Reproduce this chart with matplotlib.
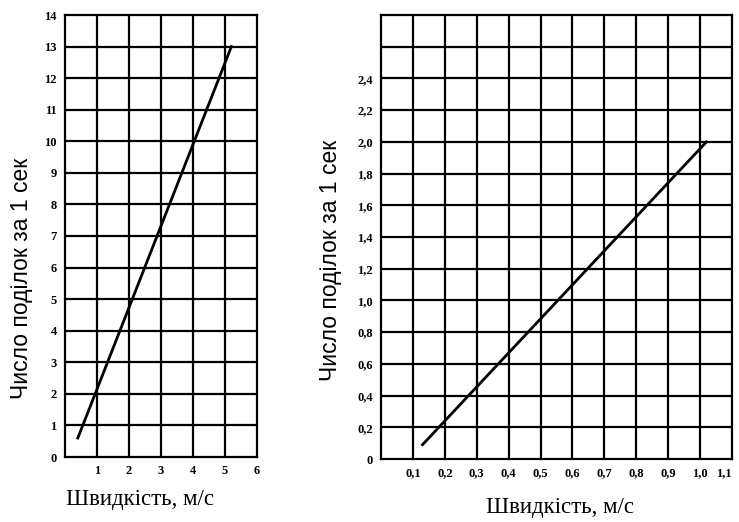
import matplotlib

matplotlib.use("Agg")
import matplotlib.pyplot as plt
import numpy as np

# left chart: speed (m/s) vs divisions per second
left_speed = [0.4, 5.2]
left_counts = [0.6, 13.0]
left_xticks = [1, 2, 3, 4, 5, 6]
left_yticks = list(range(0, 15))

# right chart
right_speed = [0.13, 1.02]
right_counts = [0.09, 2.0]
right_xticks = [0.1, 0.2, 0.3, 0.4, 0.5, 0.6, 0.7, 0.8, 0.9, 1.0, 1.1]
right_yticks = [0, 0.2, 0.4, 0.6, 0.8, 1.0, 1.2, 1.4, 1.6, 1.8, 2.0, 2.2, 2.4]

ylabel = "Число поділок за 1 сек"
xlabel = "Швидкість, м/с"

W, H = 739, 522
fig = plt.figure(figsize=(W / 100, H / 100), dpi=100)


def comma(v):
    if v == 0:
        return "0"
    return f"{v:.1f}".replace(".", ",")


def style_grid(ax, xgrid, ygrid):
    for x in xgrid:
        ax.axvline(x, color="black", lw=1.6, zorder=1)
    for y in ygrid:
        ax.axhline(y, color="black", lw=1.6, zorder=1)
    for sp in ax.spines.values():
        sp.set_linewidth(1.6)
    ax.tick_params(length=0, pad=6, labelsize=9)
    for lab in ax.get_xticklabels() + ax.get_yticklabels():
        lab.set_family("Liberation Serif")
        lab.set_fontweight("bold")


ax1 = fig.add_axes([65 / W, (H - 457) / H, 192 / W, 442 / H])
ax1.plot(left_speed, left_counts, color="black", lw=2, zorder=3)
ax1.set_xlim(0, 6)
ax1.set_ylim(0, 14)
ax1.set_xticks(left_xticks)
ax1.set_yticks(left_yticks)
ax1.set_xticklabels([str(v) for v in left_xticks])
ax1.set_yticklabels([str(v) for v in left_yticks])
style_grid(ax1, np.arange(1, 6), np.arange(1, 14))

ax2 = fig.add_axes([381 / W, (H - 459) / H, 351 / W, 444 / H])
ax2.plot(right_speed, right_counts, color="black", lw=2, zorder=3)
ax2.set_xlim(0, 1.1)
ax2.set_ylim(0, 2.8)
ax2.set_xticks(right_xticks)
ax2.set_yticks(right_yticks)
ax2.set_xticklabels([comma(v) for v in right_xticks])
ax2.set_yticklabels([comma(v) for v in right_yticks])
style_grid(ax2, np.arange(1, 11) / 10, np.arange(1, 14) / 5)
# last label sits at the figure edge; keep it inside
ax2.get_xticklabels()[-1].set_horizontalalignment("right")

fig.text(22 / W, 1 - 278 / H, ylabel, rotation=90, ha="center", va="center",
         fontsize=16.5, family="Liberation Sans")
fig.text(330 / W, 1 - 260 / H, ylabel, rotation=90, ha="center", va="center",
         fontsize=16.5, family="Liberation Sans")
fig.text(140 / W, 1 - 500 / H, xlabel, ha="center", va="center",
         fontsize=16.5, family="Liberation Serif")
fig.text(560 / W, 1 - 508 / H, xlabel, ha="center", va="center",
         fontsize=16.5, family="Liberation Serif")

fig.savefig("out.png", dpi=100)
